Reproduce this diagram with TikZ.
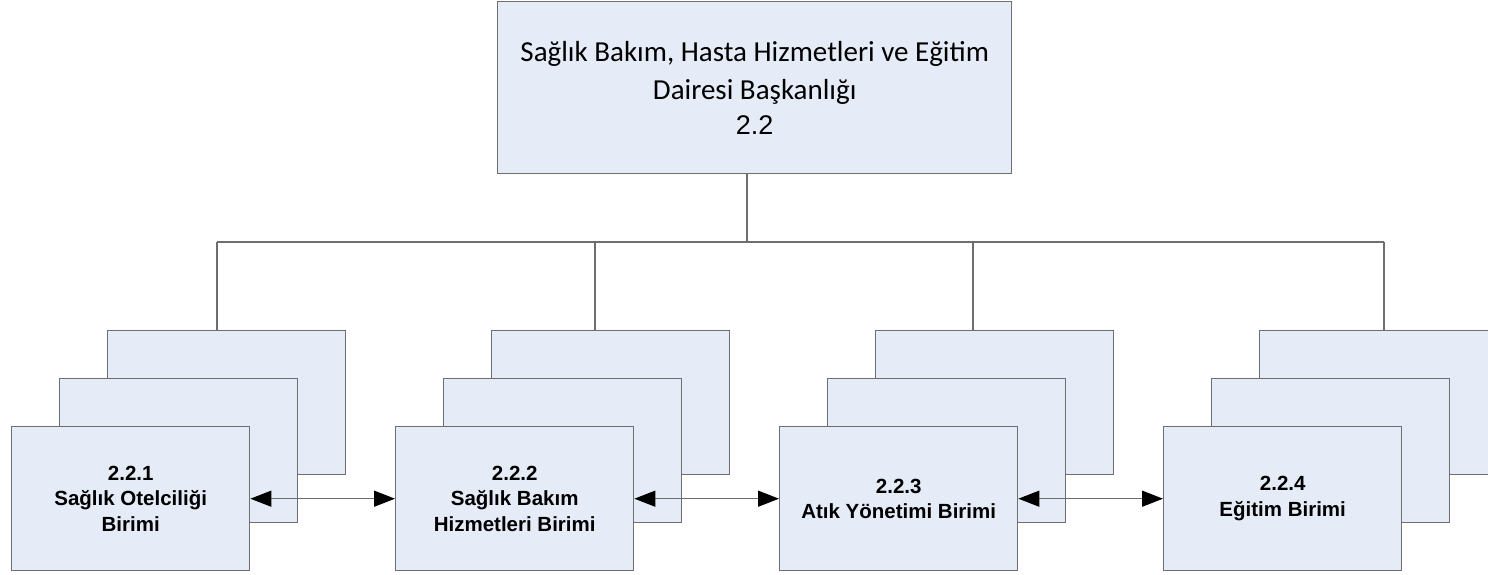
\documentclass[tikz,border=0pt]{standalone}
\usepackage{fontspec}
\setmainfont{Liberation Sans}
\newfontfamily\calfont{Carlito}
\usetikzlibrary{arrows.meta}
\definecolor{boxfill}{HTML}{E6ECF7}
\definecolor{linegray}{HTML}{6E6E6E}
\tikzset{
  orgbox/.style={draw=linegray, fill=boxfill, line width=1.4pt, minimum width=238pt, minimum height=144pt, anchor=north west, inner sep=0pt},
  unittext/.style={align=center, font=\fontsize{20.5}{25.5}\selectfont\bfseries},
  conn/.style={draw=linegray, line width=1.4pt},
  twoway/.style={draw=linegray, line width=1.4pt, {Triangle[length=21pt,width=16pt,fill=black,color=black]}-{Triangle[length=21pt,width=16pt,fill=black,color=black]}}
}
\begin{document}
\begin{tikzpicture}[x=1pt,y=-1pt]
\useasboundingbox (0,0) rectangle (1488,575);
\clip (0,0) rectangle (1488,575);
\fill[white] (0,0) rectangle (1488,575);

% top box
\node[orgbox, minimum width=514pt, minimum height=172pt, align=center,
      font=\calfont\fontsize{29}{38}\selectfont] (top) at (497,1)
 {Sağlık Bakım, Hasta Hizmetleri ve Eğitim\\
  Dairesi Başkanlığı\\[-3pt]
  {\rmfamily\fontsize{27}{33}\selectfont 2.2}};

% group 1
\node[orgbox] (b1) at (107,330) {};
\node[orgbox] (m1) at (59,378) {};
\node[orgbox, unittext] (f1) at (11,426) {2.2.1\\Sağlık Otelciliği\\Birimi};
% group 2
\node[orgbox] (b2) at (491,330) {};
\node[orgbox] (m2) at (443,378) {};
\node[orgbox, unittext] (f2) at (395,426) {2.2.2\\Sağlık Bakım\\Hizmetleri Birimi};
% group 3
\node[orgbox] (b3) at (875,330) {};
\node[orgbox] (m3) at (827,378) {};
\node[orgbox, unittext] (f3) at (779,426) {2.2.3\\Atık Yönetimi Birimi};
% group 4
\node[orgbox] (b4) at (1259,330) {};
\node[orgbox] (m4) at (1211,378) {};
\node[orgbox, unittext] (f4) at (1163,426) {2.2.4\\Eğitim Birimi};

% tree connectors
\coordinate (j1) at (217,242);
\coordinate (j2) at (595,242);
\coordinate (j3) at (973,242);
\coordinate (j4) at (1384,242);
\coordinate (jt) at (747,242);
\draw[conn] (jt |- top.south) -- (jt);
\draw[conn] (j1) -- (j4);
\draw[conn] (j1) -- (j1 |- b1.north);
\draw[conn] (j2) -- (j2 |- b2.north);
\draw[conn] (j3) -- (j3 |- b3.north);
\draw[conn] (j4) -- (j4 |- b4.north);

% two-way arrows
\draw[twoway] (f1.east) -- (f2.west);
\draw[twoway] (f2.east) -- (f3.west);
\draw[twoway] (f3.east) -- (f4.west);
\end{tikzpicture}
\end{document}
